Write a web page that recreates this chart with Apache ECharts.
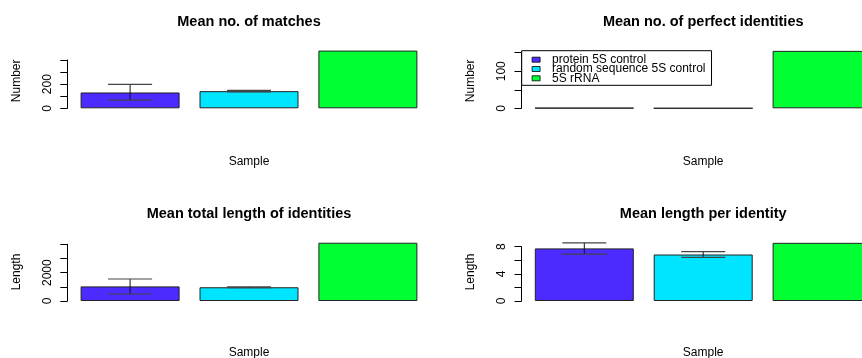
<!DOCTYPE html>
<html><head><meta charset="utf-8">
<script src="https://cdn.jsdelivr.net/npm/echarts@6/dist/echarts.min.js"></script>
<style>html,body{margin:0;padding:0;background:#fff}#c{width:862px;height:358px}</style>
</head><body><div id="c"></div>
<script>
// ---- data ----
const samples = ['protein 5S control', 'random sequence 5S control', '5S rRNA'];
const titles = ['Mean no. of matches', 'Mean no. of perfect identities', 'Mean total length of identities', 'Mean length per identity'];
const yNames = ['Number', 'Number', 'Length', 'Length'];
const xName = 'Sample';

const matchesMean = [131, 142, 478];
const matchesLow = [67, 136, null];
const matchesHigh = [198, 149, null];
const matchesTicks = [0, 100, 200, 300, 400];
const matchesTickLabels = ['0', '200'];

const perfectMean = [1, 0.2, 155];
const perfectLow = [null, null, null];
const perfectHigh = [null, null, null];
const perfectTicks = [0, 50, 100, 150];
const perfectTickLabels = ['0', '100'];

const totalLenMean = [1030, 970, 4110];
const totalLenLow = [494, 935, null];
const totalLenHigh = [1553, 1005, null];
const totalLenTicks = [0, 1000, 2000, 3000, 4000];
const totalLenTickLabels = ['0', '2000'];

const perIdMean = [7.75, 6.85, 8.57];
const perIdLow = [6.92, 6.42, null];
const perIdHigh = [8.57, 7.28, null];
const perIdTicks = [0, 2, 4, 6, 8];
const perIdTickLabels = ['0', '4', '8'];

// ---- styles / layout ----
const colors = ['#4b2bff', '#00e5ff', '#00ff33'];
const FONT = '"Liberation Sans", Arial, Helvetica, sans-serif';
const panels = [
  {mean: matchesMean, low: matchesLow, high: matchesHigh, ticks: matchesTicks, labels: matchesTickLabels},
  {mean: perfectMean, low: perfectLow, high: perfectHigh, ticks: perfectTicks, labels: perfectTickLabels},
  {mean: totalLenMean, low: totalLenLow, high: totalLenHigh, ticks: totalLenTicks, labels: totalLenTickLabels},
  {mean: perIdMean, low: perIdLow, high: perIdHigh, ticks: perIdTicks, labels: perIdTickLabels}
];
const axisXs = [67.3, 521.5, 67.3, 521.5];
const gridTops = [60, 52.7, 244.3, 246.7];
const gridBottoms = [108.3, 108.3, 301, 301];
const axisOffset = 3.35;
const gridW = 356.7;
const titleY = [21.7, 21.7, 214, 214];
const yNameY = [80.8, 80.8, 272, 272];
const sampleY = [161.7, 161.7, 353, 353];

const grid = [], xAxis = [], yAxis = [], series = [], graphic = [];

function errRender(params, api) {
  const i = api.value(0);
  const lo = api.coord([i, api.value(1)]);
  const hi = api.coord([i, api.value(2)]);
  const hw = 22;
  return {type: 'group', children: [
    {type: 'line', shape: {x1: lo[0], y1: lo[1], x2: hi[0], y2: hi[1]}, style: {stroke: '#111', lineWidth: 1}},
    {type: 'line', shape: {x1: lo[0] - hw, y1: lo[1], x2: lo[0] + hw, y2: lo[1]}, style: {stroke: '#444', lineWidth: 1.2}},
    {type: 'line', shape: {x1: hi[0] - hw, y1: hi[1], x2: hi[0] + hw, y2: hi[1]}, style: {stroke: '#444', lineWidth: 1.2}}
  ]};
}

panels.forEach((p, k) => {
  const gl = axisXs[k] + axisOffset;
  grid.push({left: gl, top: gridTops[k], width: gridW, height: gridBottoms[k] - gridTops[k], containLabel: false, outerBoundsMode: 'none'});
  xAxis.push({type: 'category', gridIndex: k, data: samples, show: false, boundaryGap: true});
  const t = p.ticks;
  yAxis.push({
    type: 'value', gridIndex: k, min: t[0], max: t[t.length - 1], interval: t[1] - t[0], offset: axisOffset,
    splitLine: {show: false},
    axisLine: {show: true, lineStyle: {color: '#000', width: 1}},
    axisTick: {show: true, length: 7, lineStyle: {color: '#000', width: 1}},
    axisLabel: {
      rotate: 90, margin: 14, color: '#000', fontFamily: FONT, fontSize: 12,
      formatter: v => (p.labels.indexOf(String(v)) >= 0 ? String(v) : '')
    }
  });
  samples.forEach((s, j) => {
    series.push({
      type: 'bar', name: s, xAxisIndex: k, yAxisIndex: k, barWidth: 99, barGap: '-100%', clip: false,
      itemStyle: {color: colors[j], borderColor: '#222', borderWidth: 1},
      emphasis: {disabled: true}, animation: false,
      data: p.mean.map((v, i) => (i === j ? v : '-'))
    });
  });
  const errData = [];
  p.mean.forEach((v, i) => { if (p.low[i] != null && p.high[i] != null) errData.push([i, p.low[i], p.high[i]]); });
  if (errData.length) {
    series.push({type: 'custom', xAxisIndex: k, yAxisIndex: k, renderItem: errRender, data: errData, clip: false, z: 5,
      encode: {x: 0, y: [1, 2]}, animation: false, silent: true});
  }
  const cx = gl + gridW / 2;
  graphic.push({type: 'text', x: cx, y: titleY[k], style: {text: titles[k], font: 'bold 14.5px ' + FONT, fill: '#000', align: 'center', verticalAlign: 'middle'}});
  graphic.push({type: 'text', x: cx, y: sampleY[k], style: {text: xName, font: '12px ' + FONT, fill: '#000', align: 'center', verticalAlign: 'middle'}});
  graphic.push({type: 'text', x: axisXs[k] - 50.6, y: yNameY[k], rotation: Math.PI / 2, style: {text: yNames[k], font: '12px ' + FONT, fill: '#000', align: 'center', verticalAlign: 'middle'}});
});

const chart = echarts.init(document.getElementById('c'), null, {renderer: 'canvas'});
chart.setOption({
  animation: false,
  backgroundColor: '#fff',
  grid, xAxis, yAxis, series, graphic,
  legend: {
    data: samples, orient: 'vertical', left: 521.7, top: 50.7, padding: [3, 6, 1, 10], itemGap: -2.7,
    itemWidth: 8, itemHeight: 5, icon: 'rect', selectedMode: false,
    borderColor: '#000', borderWidth: 1, backgroundColor: '#fff', borderRadius: 0,
    itemStyle: {borderColor: '#000', borderWidth: 0.8},
    textStyle: {fontFamily: FONT, fontSize: 12, color: '#000', lineHeight: 12, padding: [0, 0, 0, 7]}
  }
});
</script></body></html>
